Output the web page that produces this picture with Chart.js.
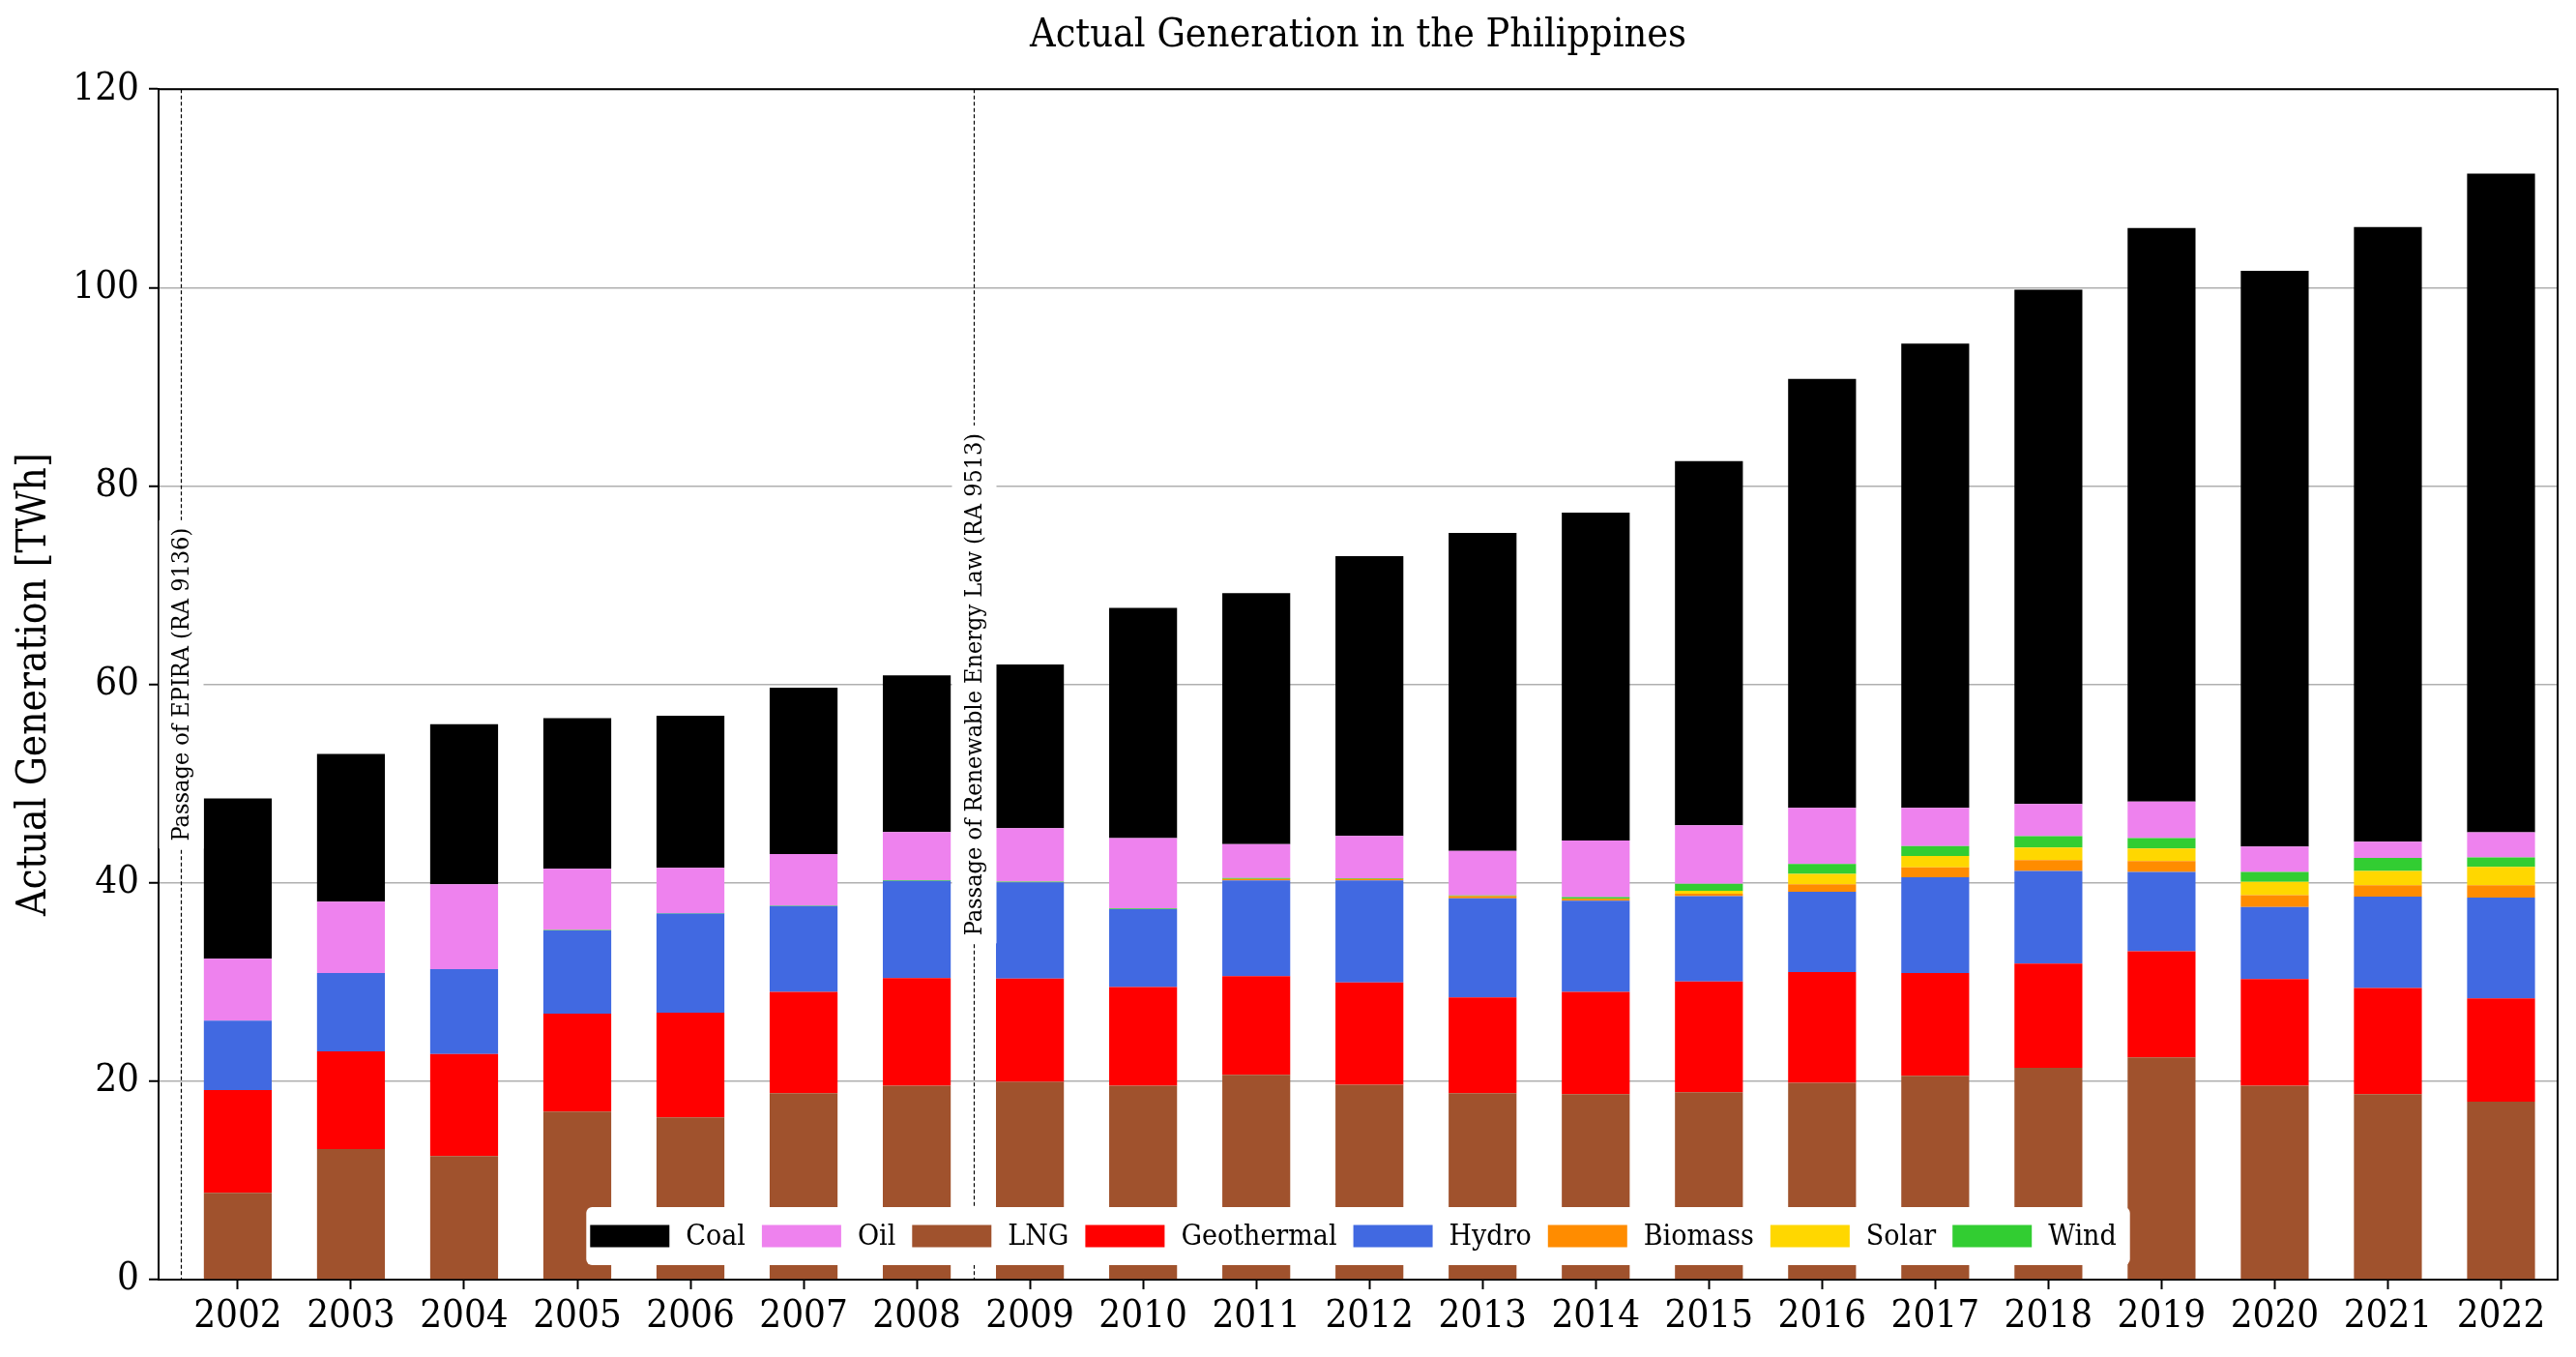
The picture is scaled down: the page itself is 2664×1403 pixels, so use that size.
<!DOCTYPE html>
<html>
<head>
<meta charset="utf-8">
<title>Actual Generation in the Philippines</title>
<script src="https://cdn.jsdelivr.net/npm/chart.js"></script>
<style>
  html, body { margin: 0; padding: 0; background: #fff; }
  #wrap { width: 2664px; height: 1403px; position: relative; }
</style>
</head>
<body>
<div id="wrap"><canvas id="gen_chart"></canvas></div>
<script>
// values (TWh)
let years = ["2002", "2003", "2004", "2005", "2006", "2007", "2008", "2009", "2010", "2011", "2012",
  "2013", "2014", "2015", "2016", "2017", "2018", "2019", "2020", "2021", "2022"];
let lng = [8.75, 13.15, 12.45, 16.95, 16.35, 18.8, 19.55, 19.95, 19.55, 20.65, 19.65,
  18.8, 18.7, 18.9, 19.85, 20.55, 21.35, 22.4, 19.55, 18.7, 17.95];
let geothermal = [10.35, 9.85, 10.3, 9.85, 10.55, 10.2, 10.85, 10.4, 9.95, 9.95, 10.3,
  9.65, 10.3, 11.15, 11.15, 10.35, 10.5, 10.7, 10.75, 10.7, 10.4];
let hydro = [7.0, 7.9, 8.55, 8.4, 10.0, 8.65, 9.8, 9.7, 7.85, 9.65, 10.3,
  10.0, 9.2, 8.6, 8.1, 9.65, 9.35, 8.0, 7.25, 9.2, 10.15];
let biomass = [0, 0, 0, 0, 0, 0, 0, 0, 0, 0.15, 0.15,
  0.2, 0.2, 0.25, 0.75, 1.0, 1.1, 1.1, 1.2, 1.15, 1.25];
let solar = [0, 0, 0, 0, 0, 0, 0, 0, 0, 0, 0,
  0, 0.02, 0.3, 1.05, 1.15, 1.25, 1.25, 1.35, 1.45, 1.85];
let wind = [0, 0, 0, 0.05, 0.05, 0.06, 0.06, 0.06, 0.06, 0.09, 0.07,
  0.07, 0.15, 0.7, 1.0, 1.0, 1.15, 1.05, 1.0, 1.3, 0.95];
let oil = [6.25, 7.2, 8.55, 6.15, 4.55, 5.2, 4.85, 5.4, 7.1, 3.4, 4.25,
  4.5, 5.7, 5.9, 5.65, 3.85, 3.25, 3.7, 2.55, 1.65, 2.55];
let coal = [16.15, 14.9, 16.15, 15.2, 15.35, 16.75, 15.8, 16.5, 23.2, 25.3, 28.2,
  32.05, 33.05, 36.7, 43.25, 46.8, 51.85, 57.8, 58.05, 61.95, 66.4];

let yTicks = [0, 20, 40, 60, 80, 100, 120];
let legendOrder = ["Coal", "Oil", "LNG", "Geothermal", "Hydro", "Biomass", "Solar", "Wind"];

// policy markers: position between bars (category index) and label
let eventPos = [-0.5, 6.5];
let eventText = ["Passage of EPIRA (RA 9136)", "Passage of Renewable Energy Law (RA 9513)"];
let eventY = 60;

const FONT = '"DejaVu Serif Condensed", "DejaVu Serif", serif';

function series(label, values, color) {
  return {
    label: label,
    data: values.map((v, i) => ({ x: i, y: v })),
    backgroundColor: color,
    borderWidth: 0,
  };
}

// bottom-to-top stacking order
const datasets = [
  series("LNG", lng, "#a0522d"),
  series("Geothermal", geothermal, "#ff0000"),
  series("Hydro", hydro, "#4169e1"),
  series("Biomass", biomass, "#ff8c00"),
  series("Solar", solar, "#ffd700"),
  series("Wind", wind, "#32cd32"),
  series("Oil", oil, "#ee82ee"),
  series("Coal", coal, "#000000"),
];

const extras = {
  id: "extras",
  afterDatasetsDraw(chart) {
    const ctx = chart.ctx;
    const area = chart.chartArea;
    const xs = chart.scales.x;
    const ys = chart.scales.y;

    // dashed event lines + boxed labels
    ctx.save();
    eventPos.forEach((pos, k) => {
      const px = Math.round(xs.getPixelForValue(pos)) + 0.5;
      ctx.strokeStyle = "#000";
      ctx.lineWidth = 1.2;
      ctx.setLineDash([4, 2.5]);
      ctx.beginPath();
      ctx.moveTo(px, area.top);
      ctx.lineTo(px, area.bottom);
      ctx.stroke();
      ctx.setLineDash([]);

      ctx.font = "25px " + FONT;
      const w = ctx.measureText(eventText[k]).width;
      const cy = ys.getPixelForValue(eventY);
      const pad = 8;
      const bw = 25 * 1.2 + pad * 2;
      ctx.fillStyle = "#fff";
      ctx.fillRect(px - bw / 2, cy - w / 2 - pad, bw, w + pad * 2);
      ctx.translate(px, cy);
      ctx.rotate(-Math.PI / 2);
      ctx.fillStyle = "#000";
      ctx.textAlign = "center";
      ctx.textBaseline = "middle";
      ctx.fillText(eventText[k], 0, 1);
      ctx.setTransform(1, 0, 0, 1, 0, 0);
    });
    ctx.restore();

    // top and right spines
    ctx.save();
    ctx.strokeStyle = "#000";
    ctx.lineWidth = 2;
    ctx.beginPath();
    ctx.moveTo(area.left, area.top);
    ctx.lineTo(area.right, area.top);
    ctx.lineTo(area.right, area.bottom);
    ctx.stroke();
    ctx.restore();

    // legend inside the plot, bottom centre
    ctx.save();
    ctx.font = "30px " + FONT;
    const swW = 82, swH = 23, gapT = 17, gapI = 17, padL = 4, padR = 14;
    let content = 0;
    legendOrder.forEach((name, i) => {
      content += swW + gapT + ctx.measureText(name).width + (i < legendOrder.length - 1 ? gapI : 0);
    });
    const boxW = content + padL + padR;
    const boxH = 60;
    const boxX = (area.left + area.right) / 2 - boxW / 2;
    const boxY = area.bottom - 15 - boxH;
    ctx.fillStyle = "#fff";
    ctx.beginPath();
    ctx.roundRect(boxX, boxY, boxW, boxH, 6);
    ctx.fill();
    let x = boxX + padL;
    const cy = boxY + boxH / 2;
    legendOrder.forEach((name) => {
      const ds = chart.data.datasets.find((d) => d.label === name);
      ctx.fillStyle = ds.backgroundColor;
      ctx.fillRect(x, cy - swH / 2, swW, swH);
      x += swW + gapT;
      ctx.fillStyle = "#000";
      ctx.textAlign = "left";
      ctx.textBaseline = "middle";
      ctx.fillText(name, x, cy + 1);
      x += ctx.measureText(name).width + gapI;
    });
    ctx.restore();
  },
};

const ctx = document.getElementById("gen_chart").getContext("2d");

new Chart(ctx, {
  type: "bar",
  data: { datasets: datasets },
  plugins: [extras],
  options: {
    responsive: true,
    maintainAspectRatio: false,
    animation: false,
    devicePixelRatio: 1,
    barPercentage: 0.6,
    categoryPercentage: 1,
    layout: { padding: { left: 0, right: 19, top: 0, bottom: 0 } },
    plugins: {
      legend: { display: false },
      tooltip: { enabled: false },
      title: {
        display: true,
        fullSize: false,
        text: "Actual Generation in the Philippines",
        color: "#000",
        font: { family: FONT, size: 41, weight: "normal", lineHeight: 1.2 },
        padding: { top: 13, bottom: 30 },
      },
    },
    scales: {
      x: {
        type: "linear",
        stacked: true,
        offset: false,
        min: -0.7,
        max: 20.5,
        afterBuildTicks: (axis) => {
          axis.ticks = years.map((y, i) => ({ value: i }));
        },
        afterFit: (scale) => {
          scale.height = 80;
          scale.paddingLeft = 0;
          scale.paddingRight = 0;
        },
        grid: {
          offset: false,
          drawOnChartArea: false,
          tickColor: "#000",
          tickWidth: 2,
          tickLength: 10,
        },
        border: { color: "#000", width: 2 },
        ticks: {
          autoSkip: false,
          maxRotation: 0,
          minRotation: 0,
          color: "#000",
          padding: 5,
          font: { family: FONT, size: 40 },
          callback: (v) => years[Math.round(v)],
        },
      },
      y: {
        stacked: true,
        min: 0,
        max: 120,
        afterBuildTicks: (axis) => {
          axis.ticks = yTicks.map((v) => ({ value: v }));
        },
        afterFit: (scale) => {
          scale.width = 164;
        },
        grid: {
          color: "#b0b0b0",
          lineWidth: 1.5,
          tickColor: "#000",
          tickWidth: 2,
          tickLength: 10,
        },
        border: { color: "#000", width: 2 },
        ticks: {
          color: "#000",
          padding: 10,
          font: { family: FONT, size: 40 },
        },
        title: {
          display: true,
          text: "Actual Generation [TWh]",
          color: "#000",
          font: { family: FONT, size: 42, lineHeight: 1.2 },
          padding: { top: 11, bottom: 0 },
        },
      },
    },
  },
});
</script>
</body>
</html>
